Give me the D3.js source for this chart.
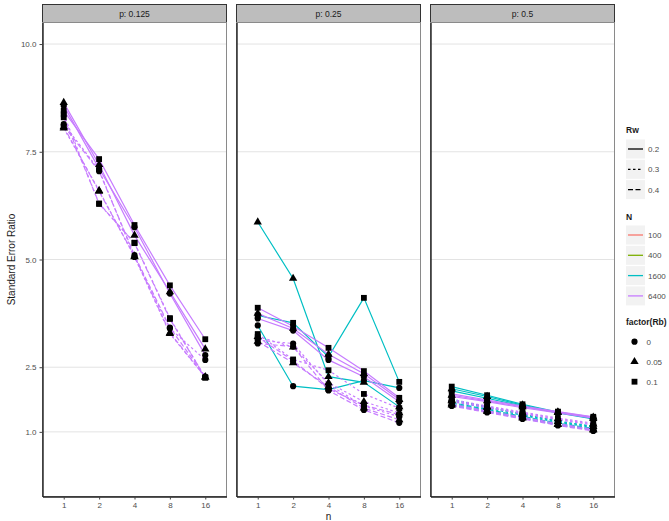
<!DOCTYPE html>
<html>
<head>
<meta charset="utf-8">
<script src="https://cdnjs.cloudflare.com/ajax/libs/d3/7.8.5/d3.min.js"></script>
<style>
  body { margin: 0; background: #fff; }
  text { font-family: "Liberation Sans", Arial, sans-serif; }
</style>
</head>
<body>
<script>
// facets, x levels and legend levels
var pLevels = ["0.125", "0.25", "0.5"];
var nLevels = [1, 2, 4, 8, 16];
var NLevels = [100, 400, 1600, 6400];
var RwLevels = [0.2, 0.3, 0.4];
var RbLevels = [0, 0.05, 0.1];
var yTicks = [1.0, 2.5, 5.0, 7.5, 10.0];

// one row per (Rw, Rb): Rw 0.2 / Rb 0, 0.05, 0.1, then Rw 0.3 ..., then Rw 0.4 ...
var p0125_N6400 = [
  [8.57, 7.11, 5.75, 4.21, 2.78],
  [8.64, 7.20, 5.56, 4.25, 2.92],
  [8.45, 7.33, 5.80, 4.40, 3.15],
  [8.14, 7.08, 5.06, 3.40, 2.67],
  [8.05, 6.60, 5.06, 3.28, 2.27],
  [8.37, 6.29, 5.39, 3.64, 2.26],
  [8.10, 7.05, 5.10, 3.42, 2.28],
  [8.08, 6.58, 5.08, 3.30, 2.27],
  [8.30, 6.30, 5.38, 3.62, 2.26]
];
var p025_N1600 = [
  [3.47, 2.06, 1.98, 2.19, 2.02],
  [5.87, 4.56, 2.28, 2.15, 1.58],
  [3.70, 3.53, 2.74, 4.11, 2.16]
];
var p025_N6400 = [
  [3.63, 3.35, 2.67, 2.28, 1.70],
  [3.75, 3.40, 2.80, 2.35, 1.75],
  [3.88, 3.45, 2.95, 2.41, 1.79],
  [3.13, 3.05, 2.10, 1.60, 1.35],
  [3.21, 2.97, 2.14, 1.70, 1.44],
  [3.27, 2.68, 2.43, 1.88, 1.55],
  [3.05, 2.98, 1.96, 1.51, 1.21],
  [3.10, 2.60, 2.05, 1.55, 1.28],
  [3.20, 2.65, 2.00, 1.62, 1.40]
];
var p05_N1600 = [
  [1.95, 1.78, 1.60, 1.44, 1.30],
  [2.00, 1.82, 1.62, 1.45, 1.31],
  [2.05, 1.85, 1.64, 1.46, 1.32],
  [1.72, 1.55, 1.38, 1.22, 1.10],
  [1.74, 1.57, 1.40, 1.24, 1.12],
  [1.76, 1.58, 1.42, 1.25, 1.13],
  [1.62, 1.47, 1.32, 1.16, 1.05],
  [1.65, 1.50, 1.34, 1.18, 1.06],
  [1.68, 1.52, 1.36, 1.20, 1.08]
];
var p05_N6400 = [
  [1.82, 1.70, 1.56, 1.44, 1.32],
  [1.85, 1.72, 1.58, 1.46, 1.34],
  [1.88, 1.74, 1.60, 1.47, 1.35],
  [1.70, 1.56, 1.42, 1.28, 1.16],
  [1.72, 1.58, 1.44, 1.30, 1.18],
  [1.75, 1.60, 1.46, 1.32, 1.20],
  [1.60, 1.45, 1.30, 1.15, 1.02],
  [1.62, 1.47, 1.32, 1.17, 1.04],
  [1.64, 1.49, 1.34, 1.19, 1.06]
];

// build series list
var series = [];
function addSeries(p, N, rows) {
  rows.forEach(function(vals, i) {
    series.push({
      p: p, N: N,
      Rw: RwLevels[Math.floor(i / 3)],
      Rb: RbLevels[i % 3],
      values: vals
    });
  });
}
addSeries("0.125", 6400, p0125_N6400);
addSeries("0.25", 1600, p025_N1600);
addSeries("0.25", 6400, p025_N6400);
addSeries("0.5", 1600, p05_N1600);
addSeries("0.5", 6400, p05_N6400);

var W = 669, H = 521;
var panelW = 184, gap = 10, plotLeft = 42.5, plotTop = 22.5, plotBottom = 496.5;

var svg = d3.select("body").append("svg")
  .attr("width", W).attr("height", H);

var color = d3.scaleOrdinal().domain(NLevels)
  .range(["#F8766D", "#7CAE00", "#00BFC4", "#C77CFF"]);
var dash = d3.scaleOrdinal().domain(RwLevels)
  .range(["none", "2.5,2.5", "5,2.5"]);
var shape = d3.scaleOrdinal().domain(RbLevels)
  .range([d3.symbolCircle, d3.symbolTriangle, d3.symbolSquare]);
var shapeSize = d3.scaleOrdinal().domain(RbLevels).range([30, 30, 34]);

var y = d3.scaleLinear().domain([-0.5, 10.5]).range([plotBottom, plotTop]);
var x = d3.scalePoint().domain(nLevels).range([0, panelW]).padding(0.6);

var line = d3.line()
  .x(function(d, i) { return x(nLevels[i]); })
  .y(function(d) { return y(d); });

pLevels.forEach(function(p, pi) {
  var x0 = plotLeft + pi * (panelW + gap);
  var g = svg.append("g").attr("transform", "translate(" + x0 + ",0)");

  // strip
  g.append("rect")
    .attr("x", 0).attr("y", 4.5).attr("width", panelW).attr("height", plotTop - 4.5)
    .attr("fill", "#bdbdbd").attr("stroke", "#333").attr("stroke-width", 1);
  g.append("text")
    .attr("x", panelW / 2).attr("y", 16.5)
    .attr("text-anchor", "middle")
    .attr("font-size", 8.5).attr("fill", "#1a1a1a")
    .text("p: " + p);

  // grid
  g.selectAll(".grid").data(yTicks).enter().append("line")
    .attr("x1", 0).attr("x2", panelW)
    .attr("y1", function(d) { return y(d); }).attr("y2", function(d) { return y(d); })
    .attr("stroke", "#dcdcdc").attr("stroke-width", 0.8);

  // panel border
  g.append("rect")
    .attr("x", 0).attr("y", plotTop).attr("width", panelW).attr("height", plotBottom - plotTop)
    .attr("fill", "none").attr("stroke", "#8a8a8a").attr("stroke-width", 1);

  // y axis (ticks and labels on the first panel only)
  var yAxis = d3.axisLeft(y).tickValues(pi === 0 ? yTicks : []).tickSize(3).tickSizeOuter(0)
    .tickFormat(d3.format(".1f"));
  var ya = g.append("g").call(yAxis);
  ya.select(".domain").attr("stroke", "#222").attr("stroke-width", 1.4);
  ya.selectAll(".tick line").attr("stroke", "#444");
  ya.selectAll(".tick text").attr("font-size", 8).attr("fill", "#4d4d4d")
    .attr("font-family", "Liberation Sans, Arial, sans-serif");

  // x axis
  var xa = g.append("g").attr("transform", "translate(0," + plotBottom + ")")
    .call(d3.axisBottom(x).tickSize(3).tickSizeOuter(0));
  xa.select(".domain").attr("stroke", "#222").attr("stroke-width", 1.4);
  xa.selectAll(".tick line").attr("stroke", "#444");
  xa.selectAll(".tick text").attr("font-size", 8).attr("fill", "#4d4d4d")
    .attr("font-family", "Liberation Sans, Arial, sans-serif");

  var sub = series.filter(function(s) { return s.p === p; });

  g.selectAll(".ser").data(sub).enter().append("path")
    .attr("d", function(s) { return line(s.values); })
    .attr("fill", "none")
    .attr("stroke", function(s) { return color(s.N); })
    .attr("stroke-width", 1.2)
    .attr("stroke-dasharray", function(s) { return dash(s.Rw); });

  sub.forEach(function(s) {
    g.selectAll(null).data(s.values).enter().append("path")
      .attr("transform", function(d, i) { return "translate(" + x(nLevels[i]) + "," + y(d) + ")"; })
      .attr("d", d3.symbol().type(shape(s.Rb)).size(shapeSize(s.Rb)))
      .attr("fill", "#000");
  });
});

// axis titles
svg.append("text")
  .attr("x", plotLeft + (3 * panelW + 2 * gap) / 2).attr("y", 520)
  .attr("text-anchor", "middle").attr("font-size", 10).attr("fill", "#1a1a1a")
  .text("n");
svg.append("text")
  .attr("transform", "translate(15," + ((plotTop + plotBottom) / 2) + ") rotate(-90)")
  .attr("text-anchor", "middle").attr("font-size", 10).attr("fill", "#1a1a1a")
  .text("Standard Error Ratio");

// legends
var lg = svg.append("g").attr("transform", "translate(625,0)");

function legendTitle(txt, ty) {
  lg.append("text").attr("x", 1).attr("y", ty).attr("font-size", 8.5)
    .attr("font-weight", "bold").attr("fill", "#1a1a1a").text(txt);
}

legendTitle("Rw", 133);
RwLevels.forEach(function(r, i) {
  var ky = 139.5 + i * 20.3;
  lg.append("rect").attr("x", 1).attr("y", ky).attr("width", 19).attr("height", 19)
    .attr("fill", "#f2f2f2");
  lg.append("line").attr("x1", 3).attr("x2", 18).attr("y1", ky + 9.5).attr("y2", ky + 9.5)
    .attr("stroke", "#000").attr("stroke-width", 1.3)
    .attr("stroke-dasharray", dash(r));
  lg.append("text").attr("x", 23).attr("y", ky + 12.5).attr("font-size", 8)
    .attr("fill", "#4d4d4d").text(r);
});

legendTitle("N", 220);
NLevels.forEach(function(nn, i) {
  var ky = 225.5 + i * 20.3;
  lg.append("rect").attr("x", 1).attr("y", ky).attr("width", 19).attr("height", 19)
    .attr("fill", "#f2f2f2");
  lg.append("line").attr("x1", 3).attr("x2", 18).attr("y1", ky + 9.5).attr("y2", ky + 9.5)
    .attr("stroke", color(nn)).attr("stroke-width", 1.3);
  lg.append("text").attr("x", 23).attr("y", ky + 12.5).attr("font-size", 8)
    .attr("fill", "#4d4d4d").text(nn);
});

legendTitle("factor(Rb)", 325);
RbLevels.forEach(function(rb, i) {
  var ky = 341.7 + i * 20;
  lg.append("path").attr("transform", "translate(9.5," + ky + ")")
    .attr("d", d3.symbol().type(shape(rb)).size(shapeSize(rb)))
    .attr("fill", "#000");
  lg.append("text").attr("x", 21.5).attr("y", ky + 3).attr("font-size", 8)
    .attr("fill", "#4d4d4d").text(rb);
});
</script>
</body>
</html>
